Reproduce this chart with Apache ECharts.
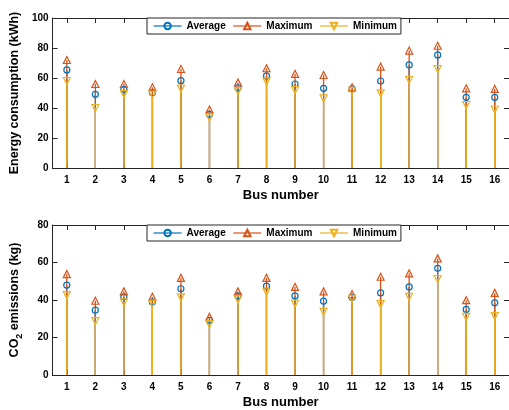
<!DOCTYPE html>
<html>
<head>
<meta charset="utf-8">
<script src="https://cdn.jsdelivr.net/npm/echarts@6/dist/echarts.min.js"></script>
<style>
html,body{margin:0;padding:0;background:#fff;}
#chart{width:509px;height:410px;}
</style>
</head>
<body>
<div id="chart"></div>
<script>
var busNumbers = ['1','2','3','4','5','6','7','8','9','10','11','12','13','14','15','16'];
var energyAvg = [65.4,49.1,52.5,50.2,58.2,35.7,53.5,61.4,56.0,53.1,52.7,58.0,68.7,75.4,47.1,47.1];
var energyMax = [72.0,56.0,56.0,53.8,66.0,39.0,57.0,66.5,62.7,62.0,53.8,67.6,78.3,81.5,53.1,52.7];
var energyMin = [58.0,40.0,49.3,49.0,53.0,33.7,51.3,57.6,52.0,46.4,51.5,49.8,58.7,66.0,42.0,39.0];
var co2Avg = [47.9,34.6,41.7,39.0,46.0,29.2,42.2,47.4,42.2,39.4,41.4,43.8,47.0,56.9,35.0,38.5];
var co2Max = [53.8,39.6,44.6,41.7,51.8,31.0,44.6,51.8,47.0,44.6,43.1,52.4,54.2,62.2,39.9,43.8];
var co2Min = [42.6,28.7,38.7,38.1,41.4,27.1,40.3,44.4,38.1,33.7,40.6,37.8,41.7,51.2,31.0,31.4];
var energyTicks = {min:0, max:100, interval:20};
var co2Ticks = {min:0, max:80, interval:20};

var FONT = 'Liberation Sans, Arial, Helvetica, sans-serif';
var AX = '#262626';
var C_AVG = '#0072BD', C_MAX = '#D95319', C_MIN = '#EDB120';

function xAxes(gi){
  return [
    {type:'category', gridIndex:gi, data:busNumbers, position:'bottom', boundaryGap:true,
     name:'Bus number', nameLocation:'middle', nameGap:21,
     nameTextStyle:{fontFamily:FONT, fontWeight:'bold', fontSize:13, color:'#000'},
     axisLine:{show:true, onZero:false, lineStyle:{color:AX, width:1}},
     axisTick:{show:true, interval:0, inside:true, alignWithLabel:true, length:5, lineStyle:{color:AX, width:1}},
     axisLabel:{fontFamily:FONT, fontWeight:'bold', fontSize:10, color:'#000', margin:7, interval:0}},
    {type:'category', gridIndex:gi, data:busNumbers, position:'top', boundaryGap:true,
     axisLine:{show:true, onZero:false, lineStyle:{color:AX, width:1}},
     axisTick:{show:true, interval:0, inside:true, alignWithLabel:true, length:5, lineStyle:{color:AX, width:1}},
     axisLabel:{show:false}}
  ];
}
function yAxes(gi, t, name, rich){
  var nts = {fontFamily:FONT, fontWeight:'bold', fontSize:12.5, color:'#000'};
  if (rich) nts.rich = rich;
  return [
    {type:'value', gridIndex:gi, position:'left', min:t.min, max:t.max, interval:t.interval,
     name:name, nameLocation:'middle', nameGap:28, nameTextStyle:nts,
     splitLine:{show:false},
     axisLine:{show:true, onZero:false, lineStyle:{color:AX, width:1}},
     axisTick:{show:true, inside:true, length:5, lineStyle:{color:AX}},
     axisLabel:{fontFamily:FONT, fontWeight:'bold', fontSize:10, color:'#000', margin:4}},
    {type:'value', gridIndex:gi, position:'right', min:t.min, max:t.max, interval:t.interval,
     splitLine:{show:false},
     axisLine:{show:true, onZero:false, lineStyle:{color:AX, width:1}},
     axisTick:{show:true, inside:true, length:5, lineStyle:{color:AX}},
     axisLabel:{show:false}}
  ];
}
function stem(name, xi, yi, data, color){
  return {type:'bar', name:name, xAxisIndex:xi, yAxisIndex:yi, data:data, barWidth:1.3, barGap:'-100%',
          itemStyle:{color:color}, silent:true, animation:false};
}
function marks(name, xi, yi, data, color, symbol, size, rot){
  return {type:'line', name:name, xAxisIndex:xi, yAxisIndex:yi, data:data,
          symbol:symbol, symbolSize:size, symbolRotate:rot||0, showSymbol:true, showAllSymbol:true,
          lineStyle:{width:0, color:color}, itemStyle:{color:'rgba(255,255,255,0)', borderColor:color, borderWidth:1.2},
          z:5, animation:false};
}
function legendItem(name, color){
  return {name:name, lineStyle:{color:color, width:1.2}};
}
function legend(top){
  return {top:top, left:147, orient:'horizontal',
          data:[legendItem('Average', C_AVG), legendItem('Maximum', C_MAX), legendItem('Minimum', C_MIN)],
          backgroundColor:'#fff', borderColor:AX, borderWidth:1, padding:[3,4,3,6],
          itemWidth:28, itemHeight:8, itemGap:7, selectedMode:false,
          lineStyle:{width:1.2},
          textStyle:{fontFamily:FONT, fontWeight:'bold', fontSize:10, color:'#000'}};
}

var option = {
  backgroundColor:'#fff',
  animation:false,
  grid:[
    {left:49, top:18, width:462, height:150},
    {left:49, top:225, width:462, height:150}
  ],
  legend:[legend(18), legend(225)],
  xAxis: xAxes(0).concat(xAxes(1)),
  yAxis: yAxes(0, energyTicks, 'Energy consumption (kWh)')
    .concat(yAxes(1, co2Ticks, 'CO{sub|2} emissions (kg)',
      {sub:{fontFamily:FONT, fontWeight:'bold', fontSize:9, color:'#000', verticalAlign:'bottom', lineHeight:20}})),
  series:[
    stem('s1', 0, 0, energyAvg, C_AVG),
    stem('s2', 0, 0, energyMax, C_MAX),
    stem('s3', 0, 0, energyMin, C_MIN),
    marks('Average', 0, 0, energyAvg, C_AVG, 'circle', 6),
    marks('Maximum', 0, 0, energyMax, C_MAX, 'triangle', 7),
    marks('Minimum', 0, 0, energyMin, C_MIN, 'triangle', 7, 180),
    stem('s4', 2, 2, co2Avg, C_AVG),
    stem('s5', 2, 2, co2Max, C_MAX),
    stem('s6', 2, 2, co2Min, C_MIN),
    marks('Average', 2, 2, co2Avg, C_AVG, 'circle', 6),
    marks('Maximum', 2, 2, co2Max, C_MAX, 'triangle', 7),
    marks('Minimum', 2, 2, co2Min, C_MIN, 'triangle', 7, 180)
  ]
};
var chart = echarts.init(document.getElementById('chart'), null, {renderer:'canvas'});
chart.setOption(option);
</script>
</body>
</html>
